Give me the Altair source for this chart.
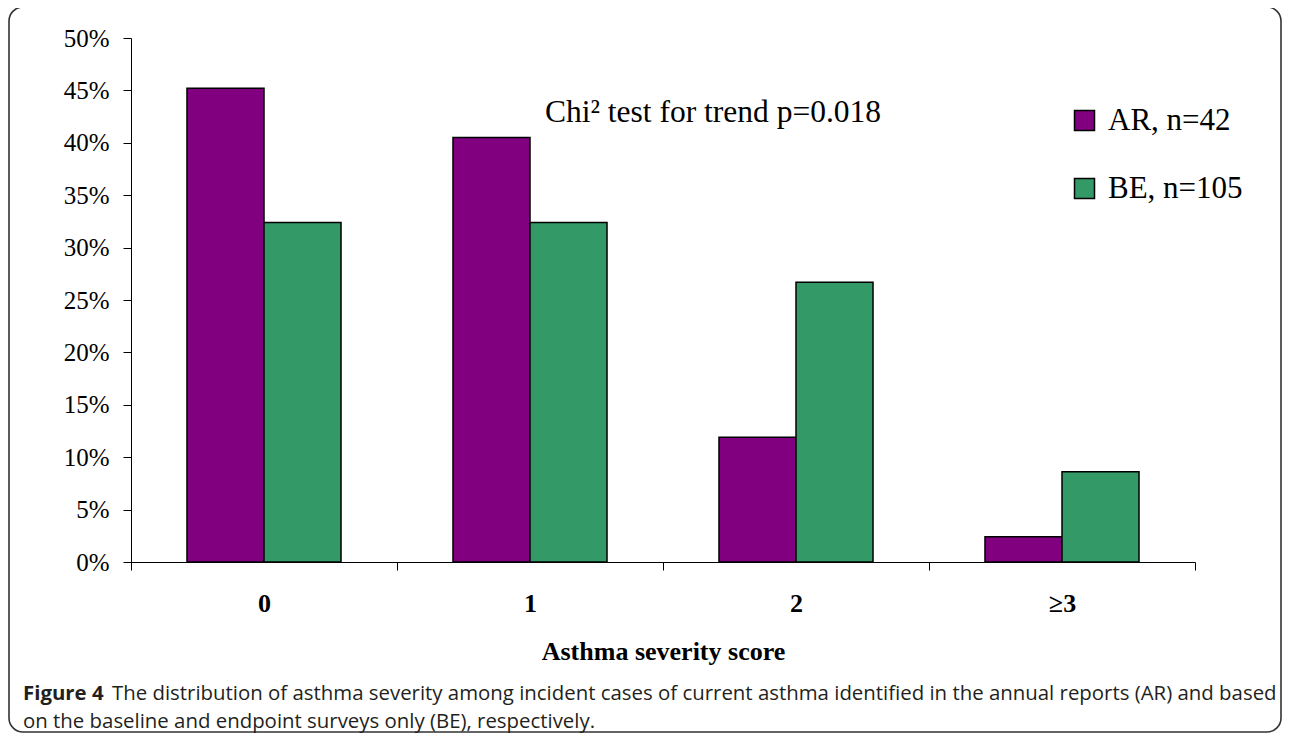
import altair as alt
import pandas as pd

categories = ["0", "1", "2", "≥3"]
series = ["AR, n=42", "BE, n=105"]
ar_values = [0.452, 0.405, 0.119, 0.024]
be_values = [0.324, 0.324, 0.267, 0.086]
y_ticks = [0, 0.05, 0.10, 0.15, 0.20, 0.25, 0.30, 0.35, 0.40, 0.45, 0.50]
colors = ["#800080", "#339966"]

rows = []
for c, a, b in zip(categories, ar_values, be_values):
    rows.append({"score": c, "group": series[0], "share": a})
    rows.append({"score": c, "group": series[1], "share": b})
df = pd.DataFrame(rows)

SERIF = "Liberation Serif"
SANS = "Open Sans"
CAP_SIZE = 20.4
CAP_COLOR = "#231f20"

bars = alt.Chart(df).mark_bar(stroke="black", strokeWidth=1.5).encode(
    x=alt.X("score:N", sort=categories,
            scale=alt.Scale(paddingInner=0, paddingOuter=0),
            axis=alt.Axis(labelAngle=0, labelFont=SERIF, labelFontSize=26,
                          labelFontWeight="bold", labelColor="black",
                          labelPadding=20, tickBand="extent", tickSize=8,
                          tickColor="black", domainColor="black",
                          title="Asthma severity score", titleFont=SERIF,
                          titleFontSize=26, titleFontWeight="bold",
                          titleColor="black", titlePadding=22)),
    xOffset=alt.XOffset("group:N", sort=series,
                        scale=alt.Scale(paddingInner=0, paddingOuter=0.727)),
    y=alt.Y("share:Q", scale=alt.Scale(domain=[0, 0.5], nice=False),
            axis=alt.Axis(values=y_ticks, format=".0%", title=None, grid=False,
                          labelFont=SERIF, labelFontSize=25, labelColor="black",
                          labelPadding=14, tickSize=8, tickColor="black",
                          domainColor="black")),
    color=alt.Color("group:N", sort=series,
                    scale=alt.Scale(domain=series, range=colors),
                    legend=alt.Legend(title=None, orient="none", legendX=938,
                                      legendY=67, symbolType="square",
                                      symbolSize=400, symbolStrokeColor="black",
                                      symbolStrokeWidth=1.5, symbolOpacity=1,
                                      labelFont=SERIF, labelFontSize=31,
                                      labelColor="black", labelOffset=8,
                                      rowPadding=36, padding=0)),
)

one = pd.DataFrame({"k": [0]})

frame = alt.Chart(one).mark_rect(filled=False, stroke="#333333", strokeWidth=1.6,
                                 cornerRadius=14).encode(
    x=alt.value(-122), x2=alt.value(1150), y=alt.value(-31), y2=alt.value(694))

note = alt.Chart(one).mark_text(text="Chi² test for trend p=0.018", font=SERIF,
                                fontSize=31.5, align="center", baseline="alphabetic",
                                color="black").encode(
    x=alt.value(582), y=alt.value(84))


def cap(text, x, y, bold=False):
    return alt.Chart(one).mark_text(
        text=text, font=SANS, fontSize=CAP_SIZE,
        fontWeight="bold" if bold else "normal", align="left",
        baseline="alphabetic", color=CAP_COLOR).encode(x=alt.value(x), y=alt.value(y))


caption = [
    cap("Figure 4", -108, 662, bold=True),
    cap("The distribution of asthma severity among incident cases of current "
        "asthma identified in the annual reports (AR) and based", -19, 662),
    cap("on the baseline and endpoint surveys only (BE), respectively.", -108, 690),
]

chart = alt.layer(frame, bars, note, *caption).properties(
    width=1064, height=524,
    autosize=alt.AutoSizeParams(type="none"),
    padding={"left": 123, "top": 30, "right": 87, "bottom": 171},
    background="white",
).configure_view(stroke=None)

chart.save("out.html", embed_options={"renderer": "svg", "actions": False})
